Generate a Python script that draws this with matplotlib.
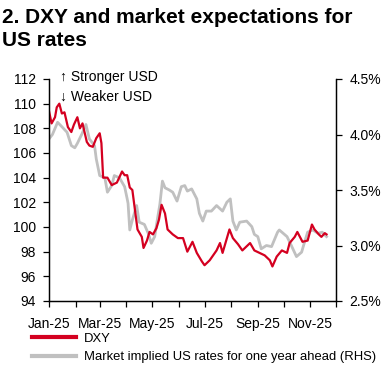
import matplotlib
matplotlib.use("Agg")
import matplotlib.pyplot as plt
import matplotlib.dates as mdates
from matplotlib.ticker import FuncFormatter
from matplotlib.lines import Line2D
import pandas as pd

plt.rcParams['font.family'] = ['Liberation Sans', 'DejaVu Sans']

dxy_dates = ["2025-01-01","2025-01-04","2025-01-08","2025-01-10","2025-01-13","2025-01-16","2025-01-19",
    "2025-01-23","2025-01-27","2025-01-30","2025-02-03","2025-02-06","2025-02-09","2025-02-14","2025-02-17",
    "2025-02-21","2025-02-25","2025-03-01","2025-03-03","2025-03-05","2025-03-10","2025-03-15","2025-03-21",
    "2025-03-27","2025-03-30","2025-04-02","2025-04-05","2025-04-08","2025-04-11","2025-04-14","2025-04-19",
    "2025-04-21","2025-04-25","2025-04-28","2025-05-02","2025-05-06","2025-05-09","2025-05-12","2025-05-16",
    "2025-05-19","2025-05-25","2025-05-31","2025-06-06","2025-06-11","2025-06-17","2025-06-22","2025-06-28",
    "2025-07-01","2025-07-07","2025-07-15","2025-07-19","2025-07-22","2025-07-30","2025-08-03","2025-08-09",
    "2025-08-14","2025-08-23","2025-08-28","2025-09-03","2025-09-09","2025-09-15","2025-09-18","2025-09-23",
    "2025-09-29","2025-10-05","2025-10-08","2025-10-14","2025-10-17","2025-10-23","2025-10-29","2025-11-03",
    "2025-11-06","2025-11-11","2025-11-14","2025-11-18","2025-11-20"]
dxy_values = [109.4,108.4,108.9,109.7,110.0,109.2,109.3,108.1,107.7,108.3,108.9,108.0,108.4,106.9,106.6,
    106.5,107.2,107.6,106.8,104.0,104.0,103.4,103.6,104.5,104.2,104.2,103.2,103.0,101.4,99.8,99.2,
    98.3,98.9,99.6,99.4,99.9,100.6,101.8,101.1,99.8,99.4,99.1,99.1,98.0,98.8,97.9,97.2,
    96.9,97.3,98.1,98.7,97.9,99.8,99.1,98.6,98.1,98.7,98.1,97.9,97.7,97.3,96.8,97.6,
    98.1,97.9,98.7,99.2,99.6,98.8,98.9,100.2,99.8,99.4,99.2,99.5,99.4]

rate_dates = ["2025-01-01","2025-01-05","2025-01-11","2025-01-16","2025-01-22","2025-01-27","2025-01-31",
    "2025-02-03","2025-02-08","2025-02-13","2025-02-17","2025-02-23","2025-02-25","2025-03-01","2025-03-07",
    "2025-03-10","2025-03-15","2025-03-18","2025-03-24","2025-03-30","2025-04-02","2025-04-03","2025-04-05",
    "2025-04-08","2025-04-13","2025-04-16","2025-04-22","2025-04-27","2025-04-30","2025-05-04","2025-05-07",
    "2025-05-10","2025-05-13","2025-05-16","2025-05-21","2025-05-25","2025-05-30","2025-06-04","2025-06-08",
    "2025-06-11","2025-06-16","2025-06-22","2025-06-25","2025-06-29","2025-07-03","2025-07-09","2025-07-15",
    "2025-07-22","2025-07-27","2025-07-31","2025-08-03","2025-08-07","2025-08-11","2025-08-19","2025-08-25",
    "2025-08-28","2025-09-01","2025-09-05","2025-09-11","2025-09-17","2025-09-24","2025-09-26","2025-10-05",
    "2025-10-10","2025-10-16","2025-10-22","2025-10-25","2025-10-29","2025-11-04","2025-11-10","2025-11-15",
    "2025-11-20"]
rate_values = [3.96,4.00,4.11,4.07,4.02,3.90,3.88,3.92,4.00,4.09,3.96,3.90,3.78,3.63,3.61,
    3.48,3.54,3.63,3.61,3.53,3.42,3.38,3.14,3.23,3.36,3.21,3.19,3.10,3.02,3.08,3.23,
    3.37,3.58,3.52,3.50,3.48,3.40,3.53,3.54,3.49,3.51,3.42,3.29,3.22,3.31,3.31,3.36,
    3.31,3.39,3.42,3.22,3.14,3.21,3.22,3.17,3.10,3.08,2.97,3.00,2.99,3.12,3.14,3.08,
    3.00,2.90,2.94,3.02,3.12,3.14,3.11,3.12,3.08]

title = "2. DXY and market expectations for\nUS rates"
dxy_label = "DXY"
rate_label = "Market implied US rates for one year ahead (RHS)"
left_ticks = [94, 96, 98, 100, 102, 104, 106, 108, 110, 112]
right_ticks = [2.5, 3.0, 3.5, 4.0, 4.5]

red = '#D40020'
grey = '#C0C0C0'

fig = plt.figure(figsize=(3.82, 3.67), dpi=100)
ax = fig.add_axes([49/382, 1-301/367, (336-49)/382, (301-79)/367])
ax2 = ax.twinx()

ax2.plot(pd.to_datetime(rate_dates), rate_values, color=grey, lw=2.0)
ax.plot(pd.to_datetime(dxy_dates), dxy_values, color=red, lw=1.6)
ax.set_zorder(ax2.get_zorder() + 1)
ax.patch.set_visible(False)

ax.set_xlim(pd.Timestamp("2025-01-01"), pd.Timestamp("2025-12-01"))
ax.set_ylim(94, 112)
ax2.set_ylim(2.5, 4.5)
ax.set_yticks(left_ticks)
ax2.set_yticks(right_ticks)
ax2.yaxis.set_major_formatter(FuncFormatter(lambda v, p: f"{v:.1f}%"))

ax.xaxis.set_major_locator(mdates.MonthLocator(bymonth=[1, 3, 5, 7, 9, 11]))
ax.xaxis.set_minor_locator(mdates.MonthLocator())
ax.xaxis.set_major_formatter(mdates.DateFormatter("%b-%y"))

for a in (ax, ax2):
    a.spines['top'].set_visible(False)
    a.spines['left'].set_linewidth(0.9)
    a.spines['right'].set_linewidth(0.9)
    a.spines['bottom'].set_linewidth(0.9)
    a.tick_params(axis='both', which='both', direction='out', length=4.5, width=0.9,
                  labelsize=10, colors='black')
ax.tick_params(axis='x', which='major', pad=7)
ax.tick_params(axis='y', pad=5)
ax2.tick_params(axis='y', pad=5)

ax.text(0.04, 1.009, "\u2191 Stronger USD", transform=ax.transAxes, fontsize=10, va='center', ha='left')
ax.text(0.04, 0.919, "\u2193 Weaker USD", transform=ax.transAxes, fontsize=10, va='center', ha='left')

fig.text(0.006, 0.978, title, fontsize=15, fontweight='bold', va='top', ha='left', linespacing=1.25)

handles = [Line2D([], [], color=red, lw=3), Line2D([], [], color=grey, lw=3)]
fig.legend(handles, [dxy_label, rate_label], loc='upper left', bbox_to_anchor=(0.084, 0.094),
           frameon=False, fontsize=9.35, handlelength=3.4, handletextpad=0.6,
           labelspacing=0.5, borderaxespad=0, borderpad=0)

fig.savefig("out.png", dpi=100)
